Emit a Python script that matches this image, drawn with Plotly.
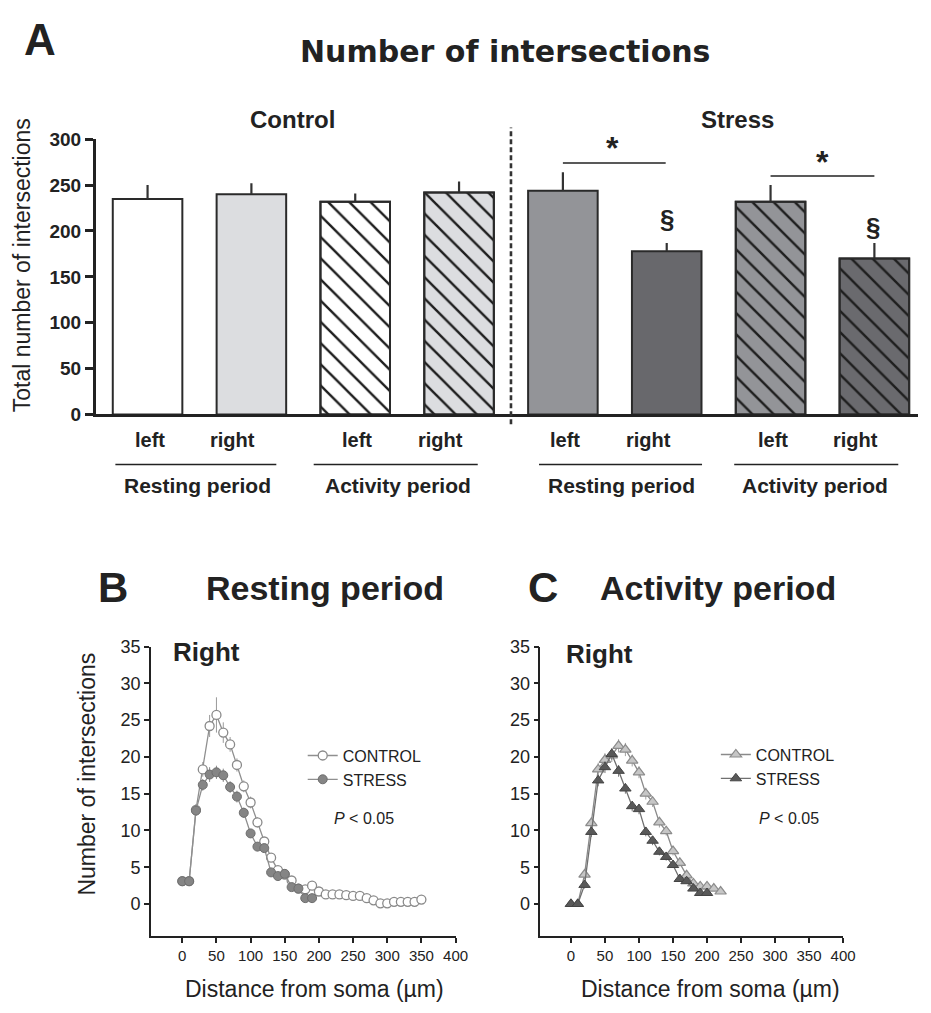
import plotly.graph_objects as go

# ---------------- Data ----------------
# Panel A
categories = ["Control resting left", "Control resting right",
              "Control activity left", "Control activity right",
              "Stress resting left", "Stress resting right",
              "Stress activity left", "Stress activity right"]
side_labels = ["left", "right", "left", "right", "left", "right", "left", "right"]
period_labels = ["Resting period", "Activity period", "Resting period", "Activity period"]
bar_values = [235, 240, 232, 242, 244, 178, 232, 170]
bar_err = [15, 12, 9, 12, 20, 9, 18, 17]
a_ticks = [0, 50, 100, 150, 200, 250, 300]

# Panel B (resting period, right)
dist_b_control = list(range(0, 360, 10))
b_control = [3.1, 3.1, 12.8, 18.3, 24.2, 25.7, 23.3, 21.7, 18.9, 16.0, 13.8, 11.1,
             8.5, 6.3, 4.6, 4.0, 3.2, 2.1, 2.0, 2.5, 1.7, 1.3, 1.3, 1.3, 1.2, 1.1,
             1.1, 0.8, 0.5, 0.1, 0.1, 0.3, 0.3, 0.3, 0.3, 0.6]
b_control_err = [0.3, 0.3, 0.8, 1.0, 1.5, 2.4, 1.4, 1.0, 0.9, 0.8, 0.8, 0.7,
                 0.6, 0.5, 0.4, 0.4, 0.3, 0.3, 0.3, 0.3, 0.2, 0.2, 0.2, 0.2, 0.2, 0.2,
                 0.2, 0.2, 0.1, 0.1, 0.1, 0.1, 0.1, 0.1, 0.1, 0.1]
dist_b_stress = list(range(0, 200, 10))
b_stress = [3.1, 3.1, 12.7, 16.2, 17.6, 17.9, 17.5, 15.9, 14.6, 12.4, 9.6, 7.8,
            7.6, 4.3, 3.8, 4.1, 2.3, 2.1, 0.8, 0.8]
b_stress_err = [0.3, 0.3, 0.7, 0.8, 1.0, 0.9, 0.9, 0.8, 0.8, 0.7, 0.6, 0.6,
                0.5, 0.4, 0.4, 0.4, 0.3, 0.3, 0.2, 0.2]

# Panel C (activity period, right)
dist_c_control = list(range(0, 230, 10))
c_control = [0.0, 0.0, 4.0, 11.0, 18.3, 19.6, 20.2, 21.5, 21.0, 19.5, 17.9, 15.0,
             13.9, 11.1, 9.9, 7.2, 5.6, 3.9, 2.8, 2.4, 2.4, 2.1, 1.7]
c_control_err = [0.2, 0.2, 0.6, 0.8, 0.9, 0.9, 0.9, 0.9, 0.9, 0.8, 0.8, 0.8,
                 0.7, 0.7, 0.6, 0.6, 0.5, 0.4, 0.4, 0.3, 0.3, 0.3, 0.3]
dist_c_stress = list(range(0, 210, 10))
c_stress = [0.0, 0.0, 2.6, 9.8, 16.8, 18.6, 20.4, 18.1, 15.7, 13.3, 12.9, 9.8,
            8.6, 7.1, 6.4, 5.3, 3.4, 3.1, 2.1, 1.5, 1.5]
c_stress_err = [0.2, 0.2, 0.5, 0.7, 0.8, 0.8, 0.8, 0.8, 0.7, 0.7, 0.7, 0.6,
                0.6, 0.5, 0.5, 0.4, 0.4, 0.3, 0.3, 0.3, 0.3]
bc_yticks = [0, 5, 10, 15, 20, 25, 30, 35]
bc_xticks = [0, 50, 100, 150, 200, 250, 300, 350, 400]

# ---------------- Styles ----------------
W, H = 931, 1013
FONT = "Liberation Sans, Arial, sans-serif"
INK = "#222222"
bar_colors = ["#ffffff", "#dcdde0", "#ffffff", "#dcdde0",
              "#939498", "#68686c", "#939498", "#6a6a6e"]
hatched = [False, False, True, True, False, False, True, True]


def px(xp):
    return xp / W


def py(yp):
    return 1 - yp / H


fig = go.Figure()

# solid fills
fig.add_trace(go.Bar(
    x=categories, y=bar_values, width=0.67,
    marker=dict(color=bar_colors, line=dict(color="#2a2a2a", width=2)),
    error_y=dict(type="data", array=bar_err, arrayminus=[0] * len(bar_err),
                 symmetric=False, thickness=2.2, width=0, color="#333333"),
    xaxis="x", yaxis="y", showlegend=False, hoverinfo="skip"))

# diagonal hatching drawn over the activity-period bars (transparent background)
hatch_x = [c for c, h in zip(categories, hatched) if h]
hatch_y = [v for v, h in zip(bar_values, hatched) if h]
fig.add_trace(go.Bar(
    x=hatch_x, y=hatch_y, width=0.67,
    marker=dict(color="#1e1e1e", line=dict(color="#2a2a2a", width=2),
                pattern=dict(shape="\\", fillmode="replace", size=15, solidity=0.16)),
    xaxis="x", yaxis="y", showlegend=False, hoverinfo="skip"))

# Panel B
fig.add_trace(go.Scatter(
    x=dist_b_control, y=b_control, mode="lines+markers", name="CONTROL",
    line=dict(color="#8f8f8f", width=1.3),
    marker=dict(symbol="circle", size=9, color="#ffffff",
                line=dict(color="#8a8a8a", width=1.3)),
    error_y=dict(type="data", array=b_control_err, thickness=1, width=0, color="#9a9a9a"),
    xaxis="x2", yaxis="y2", legend="legend"))
fig.add_trace(go.Scatter(
    x=dist_b_stress, y=b_stress, mode="lines+markers", name="STRESS",
    line=dict(color="#8f8f8f", width=1.3),
    marker=dict(symbol="circle", size=9, color="#858585",
                line=dict(color="#6e6e6e", width=1)),
    error_y=dict(type="data", array=b_stress_err, thickness=1, width=0, color="#8a8a8a"),
    xaxis="x2", yaxis="y2", legend="legend"))

# Panel C
fig.add_trace(go.Scatter(
    x=dist_c_control, y=c_control, mode="lines+markers", name="CONTROL",
    line=dict(color="#8a8a8a", width=1.3),
    marker=dict(symbol="triangle-up", size=10, color="#c6c6c6",
                line=dict(color="#8c8c8c", width=1.2)),
    error_y=dict(type="data", array=c_control_err, thickness=1, width=0, color="#a0a0a0"),
    xaxis="x3", yaxis="y3", legend="legend2"))
fig.add_trace(go.Scatter(
    x=dist_c_stress, y=c_stress, mode="lines+markers", name="STRESS",
    line=dict(color="#707070", width=1.3),
    marker=dict(symbol="triangle-up", size=10, color="#595959",
                line=dict(color="#444444", width=1)),
    error_y=dict(type="data", array=c_stress_err, thickness=1, width=0, color="#777777"),
    xaxis="x3", yaxis="y3", legend="legend2"))

axis_common = dict(showline=True, linecolor=INK, showgrid=False, zeroline=False,
                   mirror=False)

fig.update_layout(
    width=W, height=H, margin=dict(l=0, r=0, t=0, b=0),
    paper_bgcolor="white", plot_bgcolor="white",
    font=dict(family=FONT, color=INK),
    barmode="overlay",
    xaxis=dict(**axis_common, domain=[px(97), 1.0], range=[-0.5, 7.42],
               type="category", categoryorder="array", categoryarray=categories,
               linewidth=2.5, ticks="", showticklabels=False, anchor="y"),
    yaxis=dict(**axis_common, domain=[py(413), py(132)], range=[0, 300],
               linewidth=2.5, ticks="outside", ticklen=8, tickwidth=2.5,
               tickcolor=INK, tickvals=a_ticks,
               tickfont=dict(size=19, family=FONT, weight="bold", color=INK),
               anchor="x"),
    xaxis2=dict(**axis_common, domain=[px(153), px(462)], range=[-46, 400],
                linewidth=1.6, ticks="outside", ticklen=5, tickwidth=1.5,
                tickcolor=INK, tickvals=bc_xticks,
                tickfont=dict(size=15, family=FONT, color=INK), anchor="y2"),
    yaxis2=dict(**axis_common, domain=[py(946), py(650)], range=[-4.4, 35],
                linewidth=1.6, ticks="outside", ticklen=5, tickwidth=1.5,
                tickcolor=INK, tickvals=bc_yticks,
                tickfont=dict(size=18, family=FONT, color=INK), anchor="x2"),
    xaxis3=dict(**axis_common, domain=[px(548), px(855)], range=[-45, 400],
                linewidth=1.6, ticks="outside", ticklen=5, tickwidth=1.5,
                tickcolor=INK, tickvals=bc_xticks,
                tickfont=dict(size=15, family=FONT, color=INK), anchor="y3"),
    yaxis3=dict(**axis_common, domain=[py(946), py(650)], range=[-4.4, 35],
                linewidth=1.6, ticks="outside", ticklen=5, tickwidth=1.5,
                tickcolor=INK, tickvals=bc_yticks,
                tickfont=dict(size=18, family=FONT, color=INK), anchor="x3"),
    legend=dict(x=px(307), y=py(744), xanchor="left", yanchor="top",
                bgcolor="rgba(0,0,0,0)", font=dict(size=16, family=FONT, color=INK),
                tracegroupgap=0, itemclick=False),
    legend2=dict(x=px(726), y=py(743), xanchor="left", yanchor="top",
                 bgcolor="rgba(0,0,0,0)", font=dict(size=16, family=FONT, color=INK),
                 tracegroupgap=0, itemclick=False),
)

shapes = []
# dashed separator between Control and Stress
shapes.append(dict(type="line", xref="x", yref="paper", x0=3.5, x1=3.5,
                   y0=py(423), y1=py(120),
                   line=dict(color="#333333", width=2.6, dash="5px,3px")))
# period underlines
underline_spans = [(-0.31, 1.24), (1.60, 3.18), (3.77, 5.34), (5.65, 7.23)]
for a, b in underline_spans:
    shapes.append(dict(type="line", xref="x", yref="paper", x0=a, x1=b,
                       y0=py(464), y1=py(464), line=dict(color=INK, width=1.5)))
# significance bars
shapes.append(dict(type="line", xref="x", yref="y", x0=4.0, x1=4.99, y0=274, y1=274,
                   line=dict(color=INK, width=1.5)))
shapes.append(dict(type="line", xref="x", yref="y", x0=6.0, x1=7.0, y0=260, y1=260,
                   line=dict(color=INK, width=1.5)))
fig.update_layout(shapes=shapes)

ann = []


def add(text, x, y, size, xref="paper", yref="paper", xanchor="center",
        yanchor="middle", bold=False, family=FONT, angle=0, color=INK):
    ann.append(dict(text=("<b>%s</b>" % text) if bold else text, x=x, y=y,
                    xref=xref, yref=yref, xanchor=xanchor, yanchor=yanchor,
                    showarrow=False, textangle=angle,
                    font=dict(size=size, family=family, color=color)))


# Panel A texts
add("A", px(22), py(30), 44, xanchor="left", bold=True)
add("Number of intersections", px(512), py(42), 30, bold=True,
    family="DejaVu Sans, sans-serif")
add("Control", px(297), py(112), 24, bold=True)
add("Stress", px(748), py(112), 24, bold=True)
add("Total number of intersections", px(22), py(261), 23, angle=-90)

side_offsets = [0.02, -0.18]
for i, lab in enumerate(side_labels):
    add(lab, i + side_offsets[i % 2], py(439), 20, xref="x", bold=True)
period_centers = [0.48, 2.41, 4.56, 6.43]
for c, lab in zip(period_centers, period_labels):
    add(lab, c, py(486), 21, xref="x", bold=True)

add("*", 4.48, 290, 32, xref="x", yref="y", bold=True)
add("*", 6.50, 275, 32, xref="x", yref="y", bold=True)
add("§", 5.0, 213, 26, xref="x", yref="y", bold=True)
add("§", 6.99, 204, 26, xref="x", yref="y", bold=True)

# Panels B & C texts
add("B", px(97), py(590), 42, xanchor="left", bold=True)
add("Resting period", px(207), py(590), 34, xanchor="left", bold=True)
add("C", px(533), py(590), 42, xanchor="left", bold=True)
add("Activity period", px(606), py(590), 34, xanchor="left", bold=True)
add("Right", px(173), py(656), 26, xanchor="left", bold=True)
add("Right", px(572), py(658), 26, xanchor="left", bold=True)
add("Number of intersections", px(88), py(780), 23, angle=-90)
add("Distance from soma (µm)", px(319), py(1000), 23)
add("Distance from soma (µm)", px(721), py(1000), 23)
add("<i>P</i> < 0.05", px(369), py(826), 16)
add("<i>P</i> < 0.05", px(800), py(826), 16)

fig.update_layout(annotations=ann)

fig.write_html("out.html")
